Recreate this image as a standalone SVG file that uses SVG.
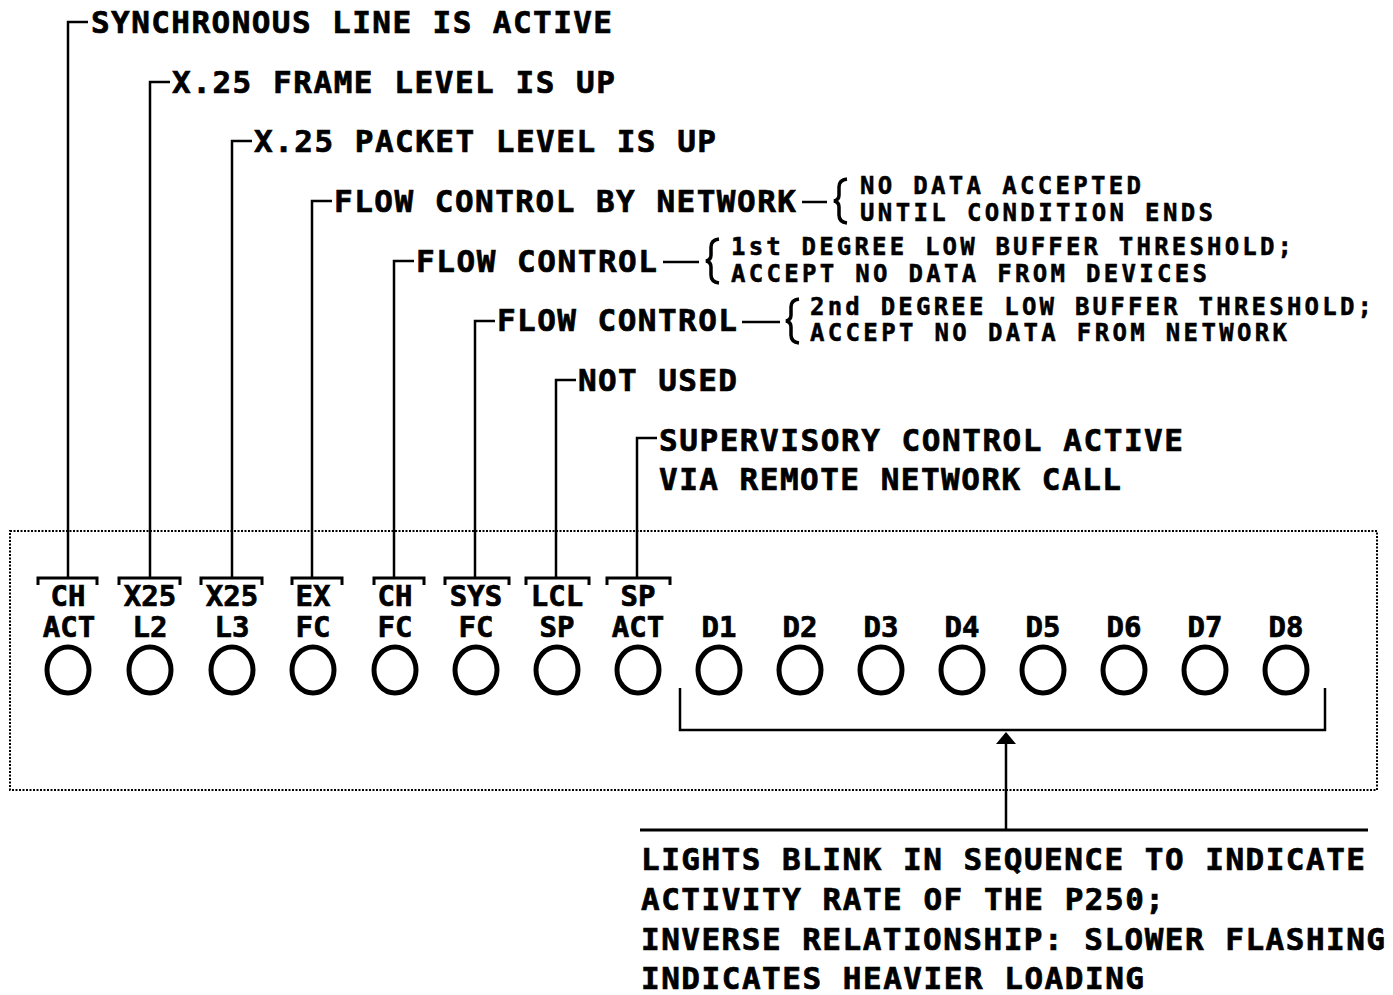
<svg xmlns="http://www.w3.org/2000/svg" width="1393" height="995" viewBox="0 0 1393 995">
<style>
text{font-family:"DejaVu Sans Mono","Liberation Mono",monospace;font-weight:bold;fill:#000;stroke:#000;stroke-width:0.7}
.m{font-size:31px}
.s{font-size:24px;stroke-width:0.5}
.l{font-size:29px;text-anchor:middle}
.ln{fill:none;stroke:#000;stroke-width:2.5}
.br{fill:none;stroke:#000;stroke-width:3.5}
.led{fill:none;stroke:#000;stroke-width:5}
.bar{fill:none;stroke:#000;stroke-width:3}
</style>
<rect width="1393" height="995" fill="#fff"/>
<rect id="panel" x="10" y="531" width="1367" height="259" fill="none" stroke="#000" stroke-width="2" stroke-dasharray="2,1.5"/>
<g id="connectors">
<path class="ln" d="M68,578 V22 H88"/>
<path class="ln" d="M150,578 V82 H170"/>
<path class="ln" d="M232,578 V141 H252"/>
<path class="ln" d="M312,578 V201 H332"/>
<path class="ln" d="M394,578 V261 H414"/>
<path class="ln" d="M475,578 V321 H495"/>
<path class="ln" d="M556,578 V380 H576"/>
<path class="ln" d="M637,578 V438 H657"/>
<line class="ln" x1="802" y1="202" x2="827" y2="202"/>
<line class="ln" x1="663" y1="262" x2="699" y2="262"/>
<line class="ln" x1="742" y1="322" x2="780" y2="322"/>
<path class="br" d="M847,179 Q839,180 839,187 V195 Q839,200 834,201 Q839,202 839,207 V215 Q839,222 847,223"/>
<path class="br" d="M719,239 Q711,240 711,247 V255 Q711,260 706,261 Q711,262 711,267 V275 Q711,282 719,283"/>
<path class="br" d="M799,299 Q791,300 791,307 V315 Q791,320 786,321 Q791,322 791,327 V335 Q791,342 799,343"/>
<path class="ln" d="M680,688 V730 H1325 V688"/>
<polygon points="1006,732 996,744 1016,744" fill="#000"/>
<line class="ln" x1="1006" y1="744" x2="1006" y2="830"/>
<line x1="640" y1="830" x2="1368" y2="830" stroke="#000" stroke-width="3"/>
</g>
<g id="label-synch"><text class="m" x="91" y="33" textLength="521" lengthAdjust="spacing">SYNCHRONOUS LINE IS ACTIVE</text></g>
<g id="label-frame"><text class="m" x="172" y="93" textLength="443" lengthAdjust="spacing">X.25 FRAME LEVEL IS UP</text></g>
<g id="label-packet"><text class="m" x="254" y="152" textLength="462" lengthAdjust="spacing">X.25 PACKET LEVEL IS UP</text></g>
<g id="label-exfc">
<text class="m" x="334" y="212" textLength="462" lengthAdjust="spacing">FLOW CONTROL BY NETWORK</text>
<text class="s" x="860" y="194" textLength="281" lengthAdjust="spacing">NO DATA ACCEPTED</text>
<text class="s" x="860" y="221" textLength="353" lengthAdjust="spacing">UNTIL CONDITION ENDS</text>
</g>
<g id="label-chfc">
<text class="m" x="416" y="272" textLength="241" lengthAdjust="spacing">FLOW CONTROL</text>
<text class="s" x="731" y="255" textLength="561" lengthAdjust="spacing">1st DEGREE LOW BUFFER THRESHOLD;</text>
<text class="s" x="731" y="282" textLength="476" lengthAdjust="spacing">ACCEPT NO DATA FROM DEVICES</text>
</g>
<g id="label-sysfc">
<text class="m" x="497" y="331" textLength="240" lengthAdjust="spacing">FLOW CONTROL</text>
<text class="s" x="810" y="315" textLength="562" lengthAdjust="spacing">2nd DEGREE LOW BUFFER THRESHOLD;</text>
<text class="s" x="810" y="341" textLength="477" lengthAdjust="spacing">ACCEPT NO DATA FROM NETWORK</text>
</g>
<g id="label-lclsp"><text class="m" x="578" y="391" textLength="159" lengthAdjust="spacing">NOT USED</text></g>
<g id="label-spact">
<text class="m" x="659" y="451" textLength="524" lengthAdjust="spacing">SUPERVISORY CONTROL ACTIVE</text>
<text class="m" x="659" y="490" textLength="462" lengthAdjust="spacing">VIA REMOTE NETWORK CALL</text>
</g>
<g id="led-chact"><path class="bar" d="M38,585 V578 H97 V585"/><text class="l" x="68" y="606">CH</text><text class="l" x="69" y="637">ACT</text><ellipse class="led" cx="68" cy="670" rx="21" ry="23"/></g>
<g id="led-x25l2"><path class="bar" d="M119,585 V578 H180 V585"/><text class="l" x="150" y="606">X25</text><text class="l" x="150" y="637">L2</text><ellipse class="led" cx="150" cy="670" rx="21" ry="23"/></g>
<g id="led-x25l3"><path class="bar" d="M201,585 V578 H262 V585"/><text class="l" x="232" y="606">X25</text><text class="l" x="232" y="637">L3</text><ellipse class="led" cx="232" cy="670" rx="21" ry="23"/></g>
<g id="led-exfc"><path class="bar" d="M292,585 V578 H342 V585"/><text class="l" x="313" y="606">EX</text><text class="l" x="313" y="637">FC</text><ellipse class="led" cx="313" cy="670" rx="21" ry="23"/></g>
<g id="led-chfc"><path class="bar" d="M374,585 V578 H424 V585"/><text class="l" x="395" y="606">CH</text><text class="l" x="395" y="637">FC</text><ellipse class="led" cx="395" cy="670" rx="21" ry="23"/></g>
<g id="led-sysfc"><path class="bar" d="M445,585 V578 H509 V585"/><text class="l" x="476" y="606">SYS</text><text class="l" x="476" y="637">FC</text><ellipse class="led" cx="476" cy="670" rx="21" ry="23"/></g>
<g id="led-lclsp"><path class="bar" d="M526,585 V578 H589 V585"/><text class="l" x="557" y="606">LCL</text><text class="l" x="557" y="637">SP</text><ellipse class="led" cx="557" cy="670" rx="21" ry="23"/></g>
<g id="led-spact"><path class="bar" d="M607,585 V578 H670 V585"/><text class="l" x="638" y="606">SP</text><text class="l" x="638" y="637">ACT</text><ellipse class="led" cx="638" cy="670" rx="21" ry="23"/></g>
<g id="led-d1"><text class="l" x="719" y="637">D1</text><ellipse class="led" cx="719" cy="670" rx="21" ry="23"/></g>
<g id="led-d2"><text class="l" x="800" y="637">D2</text><ellipse class="led" cx="800" cy="670" rx="21" ry="23"/></g>
<g id="led-d3"><text class="l" x="881" y="637">D3</text><ellipse class="led" cx="881" cy="670" rx="21" ry="23"/></g>
<g id="led-d4"><text class="l" x="962" y="637">D4</text><ellipse class="led" cx="962" cy="670" rx="21" ry="23"/></g>
<g id="led-d5"><text class="l" x="1043" y="637">D5</text><ellipse class="led" cx="1043" cy="670" rx="21" ry="23"/></g>
<g id="led-d6"><text class="l" x="1124" y="637">D6</text><ellipse class="led" cx="1124" cy="670" rx="21" ry="23"/></g>
<g id="led-d7"><text class="l" x="1205" y="637">D7</text><ellipse class="led" cx="1205" cy="670" rx="21" ry="23"/></g>
<g id="led-d8"><text class="l" x="1286" y="637">D8</text><ellipse class="led" cx="1286" cy="670" rx="21" ry="23"/></g>
<g id="note-lights">
<text class="m" x="641" y="870" textLength="724" lengthAdjust="spacing">LIGHTS BLINK IN SEQUENCE TO INDICATE</text>
<text class="m" x="641" y="910" textLength="523" lengthAdjust="spacing">ACTIVITY RATE OF THE P250;</text>
<text class="m" x="641" y="950" textLength="744" lengthAdjust="spacing">INVERSE RELATIONSHIP: SLOWER FLASHING</text>
<text class="m" x="641" y="989" textLength="503" lengthAdjust="spacing">INDICATES HEAVIER LOADING</text>
</g>
</svg>
